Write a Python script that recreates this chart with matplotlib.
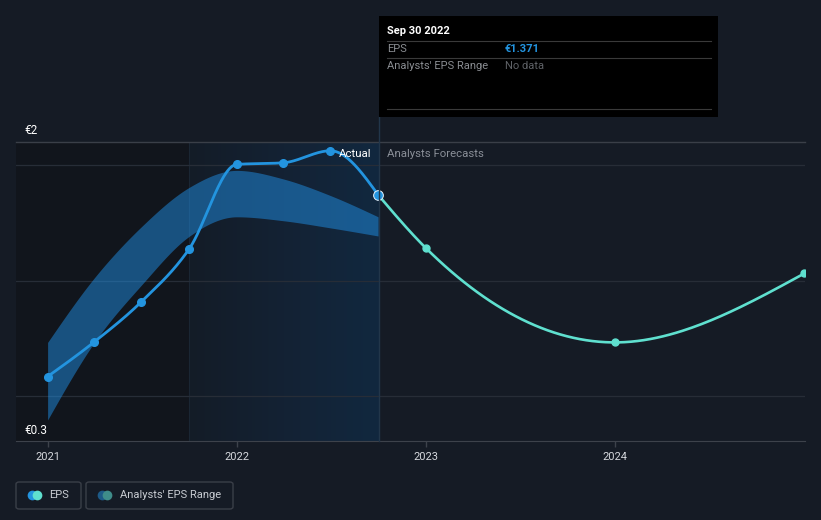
"""EPS history + analyst forecast chart (dark theme)."""

import matplotlib

matplotlib.use("Agg")  # headless
import matplotlib.dates as mdates  # noqa: E402
import matplotlib.pyplot as plt  # noqa: E402
import numpy as np  # noqa: E402
import pandas as pd  # noqa: E402
from matplotlib.colors import LinearSegmentedColormap  # noqa: E402
from matplotlib.lines import Line2D  # noqa: E402
from matplotlib.patches import FancyBboxPatch, Rectangle  # noqa: E402

plt.rcParams["font.family"] = ["Roboto", "DejaVu Sans"]

# --- data ---
actual_dates = ["2020-12-31", "2021-03-31", "2021-06-30", "2021-09-30",
                "2021-12-31", "2022-03-31", "2022-06-30", "2022-09-30"]
actual_eps = [0.584, 0.734, 0.908, 1.136, 1.503, 1.510, 1.562, 1.371]

forecast_dates = ["2022-09-30", "2022-12-31", "2023-12-31", "2024-12-31"]
forecast_eps = [1.371, 1.141, 0.732, 1.031]

range_dates = actual_dates
range_high = [0.732, 1.011, 1.233, 1.403, 1.477, 1.440, 1.368, 1.276]
range_low = [0.396, 0.731, 0.980, 1.191, 1.276, 1.259, 1.228, 1.193]

year_ticks = ["2021", "2022", "2023", "2024"]
grid_values = [0.5, 1.0, 1.5]

W, H = 821, 520
BG = "#151b25"
BLUE = "#2394df"
TEAL = "#5fe0cf"


def d(dates):
    return mdates.date2num(pd.to_datetime(dates))


def monotone(xs, ys, n=60):
    """d3 curveMonotoneX style smoothing through the given points."""
    x = np.asarray(xs, float)
    y = np.asarray(ys, float)
    h = np.diff(x)
    s = np.diff(y) / h
    t = np.zeros_like(y)
    for i in range(1, len(y) - 1):
        p = (s[i - 1] * h[i] + s[i] * h[i - 1]) / (h[i - 1] + h[i])
        t[i] = (np.sign(s[i - 1]) + np.sign(s[i])) * min(abs(s[i - 1]), abs(s[i]), 0.5 * abs(p))
    t[0] = (3 * s[0] - t[1]) / 2 if len(y) > 2 else s[0]
    t[-1] = (3 * s[-1] - t[-2]) / 2 if len(y) > 2 else s[-1]
    xo, yo = [], []
    for i in range(len(h)):
        u = np.linspace(0, 1, n)
        h00 = 2 * u**3 - 3 * u**2 + 1
        h10 = u**3 - 2 * u**2 + u
        h01 = -2 * u**3 + 3 * u**2
        h11 = u**3 - u**2
        xo.append(x[i] + u * h[i])
        yo.append(h00 * y[i] + h10 * h[i] * t[i] + h01 * y[i + 1] + h11 * h[i] * t[i + 1])
    return np.concatenate(xo), np.concatenate(yo)


def fx(px):
    return px / W


def fy(py):
    return 1 - py / H


fig = plt.figure(figsize=(W / 100, H / 100), dpi=100, facecolor=BG)
ax = fig.add_axes([fx(16), fy(441), 789 / W, 299 / H])
ax.set_facecolor(BG)
x0, x1 = d(["2020-10-31", "2025-01-01"])
y0, y1 = 0.305, 1.6
ax.set_xlim(x0, x1)
ax.set_ylim(y0, y1)

# past / last-year shading
split_a, split_b = d(["2021-09-30", "2022-09-30"])
ax.axvspan(x0, split_a, color="#11151c", zorder=0, lw=0)
grad = LinearSegmentedColormap.from_list("hl", ["#131c27", "#142234", "#11283f"])
ax.imshow(np.linspace(0, 1, 256)[None, :], cmap=grad, aspect="auto",
          extent=[split_a, split_b, y0, y1], zorder=0.5, interpolation="bilinear")
ax.axvline(split_a, color="#1a2633", lw=0.8, zorder=0.6)

for g in grid_values:
    ax.axhline(g, color="#272d37", lw=0.9, zorder=1)
ax.axhline(y1, color="#3a3f48", lw=1.0, zorder=1, clip_on=False)

# analysts' range band
bx, bh = monotone(d(range_dates), range_high)
_, bl = monotone(d(range_dates), range_low)
ax.fill_between(bx, bl, bh, color="#2196f0", alpha=0.47, lw=0, zorder=2)

# forecast
fxs, fys = monotone(d(forecast_dates), forecast_eps)
ax.plot(fxs, fys, color=TEAL, lw=1.9, zorder=3, solid_capstyle="round")
ax.plot(d(forecast_dates[1:]), forecast_eps[1:], "o", color=TEAL, ms=5, zorder=4)

# actual
axs, ays = monotone(d(actual_dates), actual_eps)
ax.plot(axs, ays, color=BLUE, lw=2.0, zorder=5, solid_capstyle="round")
ax.plot(d(actual_dates[:-1]), actual_eps[:-1], "o", color=BLUE, ms=5.5, zorder=6)
ax.plot(d(actual_dates[-1:]), actual_eps[-1:], "o", color=BLUE, ms=7,
        mec="#e8f2fb", mew=0.7, zorder=7)

for sp in ax.spines.values():
    sp.set_visible(False)
ax.spines["bottom"].set_visible(True)
ax.spines["bottom"].set_color("#3d424b")
ax.set_yticks([])
ax.set_xticks(d([f"{y}-01-01" for y in year_ticks]))
ax.set_xticklabels(year_ticks)
ax.tick_params(axis="x", colors="#3d424b", length=4, width=1, labelcolor="#d5d8dd",
               labelsize=8, pad=4)

# y labels
fig.text(fx(24), fy(130), "€2", color="white", fontsize=8.5, va="center", ha="left")
fig.text(fx(24), fy(430), "€0.3", color="white", fontsize=8.5, va="center", ha="left")

# actual / forecast labels
fig.text(fx(371), fy(154), "Actual", color="white", fontsize=8.2, va="center", ha="right")
fig.text(fx(387), fy(154), "Analysts Forecasts", color="#8a8f98", fontsize=8.2,
         va="center", ha="left")

# hover line + tooltip
fig.add_artist(Line2D([fx(379), fx(379)], [fy(117), fy(441)], color="#22364a", lw=1.0,
                      transform=fig.transFigure, zorder=8))
fig.add_artist(Rectangle((fx(379), fy(117)), 339 / W, 101 / H, transform=fig.transFigure,
                         facecolor="black", edgecolor="none", zorder=9))
for yy in (41, 58, 109):
    fig.add_artist(Line2D([fx(387), fx(711)], [fy(yy), fy(yy)], color="#3a3a3a", lw=0.8,
                          transform=fig.transFigure, zorder=10))
fig.text(fx(387), fy(31), "Sep 30 2022", color="white", fontsize=8, fontweight="bold",
         va="center", zorder=11)
fig.text(fx(387), fy(49), "EPS", color="#8a8d92", fontsize=8, va="center", zorder=11)
fig.text(fx(505), fy(49), "€1.371", color=BLUE, fontsize=8, fontweight="bold",
         va="center", zorder=11)
fig.text(fx(387), fy(66), "Analysts' EPS Range", color="#8a8d92", fontsize=8,
         va="center", zorder=11)
fig.text(fx(505), fy(66), "No data", color="#5f6267", fontsize=8, va="center", zorder=11)

# legend
for (lx, lw_), label, colors, tx in (
    ((16, 65), "EPS", (BLUE, TEAL), 49),
    ((86, 147), "Analysts' EPS Range", ("#1d5a87", "#3f8d8a"), 120),
):
    fig.add_artist(FancyBboxPatch((fx(lx), fy(509)), lw_ / W, 27 / H,
                                  boxstyle="round,pad=0,rounding_size=0.004",
                                  transform=fig.transFigure, facecolor="none",
                                  edgecolor="#3a3f48", lw=1.0))
    cx = lx + 16
    fig.add_artist(Line2D([fx(cx)], [fy(495)], marker="o", ms=7, color=colors[0], mew=0,
                          transform=fig.transFigure))
    fig.add_artist(Line2D([fx(cx + 5)], [fy(495)], marker="o", ms=7, color=colors[1], mew=0,
                          transform=fig.transFigure))
    fig.text(fx(tx), fy(495), label, color="#c8ccd2", fontsize=8, va="center")

fig.savefig("out.png", dpi=100, facecolor=BG)
